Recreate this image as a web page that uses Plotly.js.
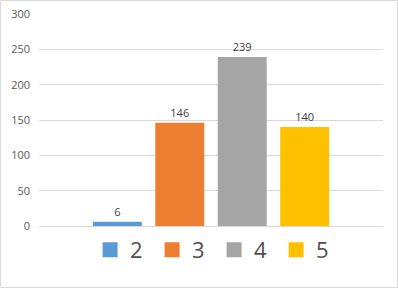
<!DOCTYPE html>
<html>
<head>
<meta charset="utf-8">
<script src="https://cdn.plot.ly/plotly-3.0.1.min.js"></script>
<style>html,body{margin:0;padding:0;background:#fff;}#chart{width:398px;height:288px;}</style>
</head>
<body>
<div id="chart"></div>
<script>
const categories = ['2', '3', '4', '5'];
const values = [6, 146, 239, 140];
const colors = ['#5B9BD5', '#ED7D31', '#A5A5A5', '#FFC000'];
const yTicks = [0, 50, 100, 150, 200, 250, 300];

const traces = [];
categories.forEach((c, i) => {
  traces.push({
    type: 'bar',
    x: [i],
    y: [values[i]],
    width: 0.784,
    marker: {color: colors[i]},
    text: [String(values[i])],
    textposition: 'outside',
    cliponaxis: false,
    textfont: {family: 'Open Sans, sans-serif', size: 11, color: '#404040'},
    showlegend: false,
    hoverinfo: 'skip'
  });
});
categories.forEach((c, i) => {
  traces.push({
    type: 'scatter',
    mode: 'markers',
    x: [null],
    y: [null],
    name: c,
    marker: {symbol: 'square', size: 15, color: colors[i]},
    showlegend: true
  });
});

const layout = {
  width: 398,
  height: 288,
  margin: {l: 39, r: 15, t: 14, b: 62},
  paper_bgcolor: '#ffffff',
  plot_bgcolor: '#ffffff',
  barmode: 'overlay',
  font: {family: 'Open Sans, sans-serif', color: '#595959'},
  xaxis: {
    range: [-1.254, 4.254],
    showticklabels: false,
    showgrid: false,
    zeroline: false,
    showline: false,
    ticks: '',
    fixedrange: true
  },
  yaxis: {
    range: [0, 300],
    tickvals: yTicks,
    ticktext: yTicks.map(String),
    tickfont: {family: 'Open Sans, sans-serif', size: 11, color: '#595959'},
    showgrid: true,
    gridcolor: '#D9D9D9',
    gridwidth: 1,
    zeroline: true,
    zerolinecolor: '#D9D9D9',
    zerolinewidth: 1,
    showline: false,
    ticks: '',
    ticklabelstandoff: 8,
    fixedrange: true
  },
  showlegend: true,
  legend: {
    orientation: 'h',
    x: 0.509,
    xanchor: 'center',
    y: -0.113,
    yanchor: 'middle',
    entrywidth: 17,
    entrywidthmode: 'pixels',
    font: {family: 'Open Sans, sans-serif', size: 22, color: '#505050'},
    bgcolor: 'rgba(0,0,0,0)',
    itemclick: false,
    itemdoubleclick: false
  },
  shapes: [{
    type: 'rect',
    xref: 'paper', yref: 'paper',
    x0: -0.1119, x1: 1.0422,
    y0: -0.2901, y1: 1.0637,
    line: {color: '#D9D9D9', width: 1},
    fillcolor: 'rgba(0,0,0,0)'
  }]
};

Plotly.newPlot('chart', traces, layout, {displayModeBar: false, staticPlot: true});
</script>
</body>
</html>
